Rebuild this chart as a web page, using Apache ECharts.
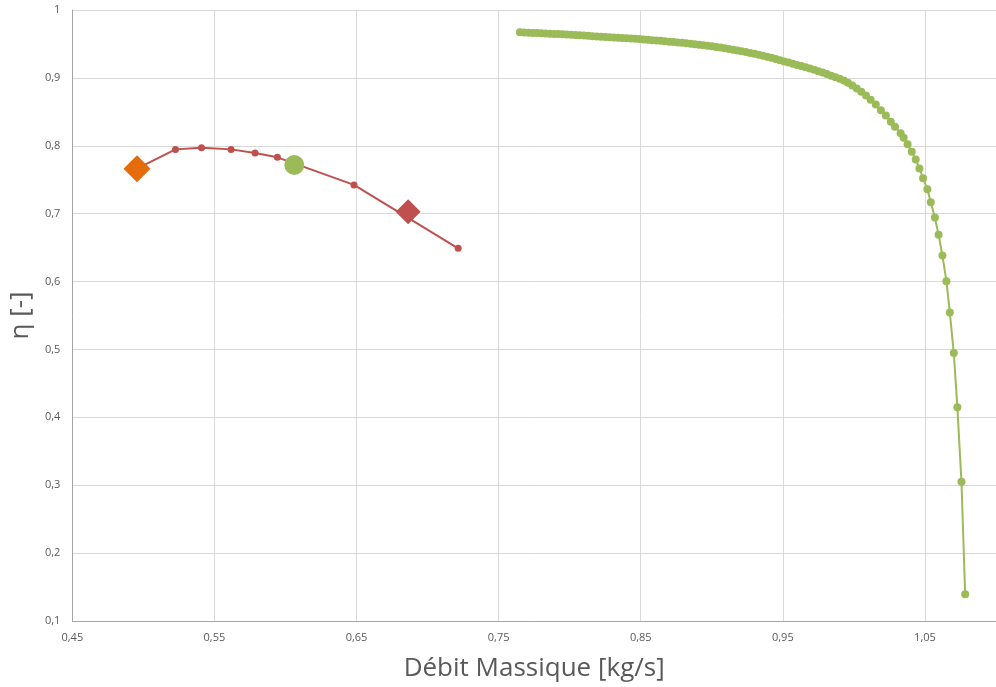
<!DOCTYPE html>
<html>
<head>
<meta charset="utf-8">
<script src="https://cdn.jsdelivr.net/npm/echarts@6/dist/echarts.min.js"></script>
<style>
html,body{margin:0;padding:0;background:#fff;}
#c{width:996px;height:687px;}
</style>
</head>
<body>
<div id="c"></div>
<script>
// X tick labels (Excel-style, starting at 0.45)
const xTicks = [0.45, 0.55, 0.65, 0.75, 0.85, 0.95, 1.05];
const yTicks = [0.1, 0.2, 0.3, 0.4, 0.5, 0.6, 0.7, 0.8, 0.9, 1];

// Green curve (dense points)
const greenX = [
 0.765,0.768,0.771,0.774,0.777,0.780,0.783,0.786,0.789,0.792,
 0.795,0.798,0.801,0.804,0.807,0.810,0.813,0.816,0.819,0.822,
 0.825,0.828,0.831,0.834,0.837,0.840,0.843,0.846,0.849,0.852,
 0.855,0.858,0.861,0.864,0.867,0.870,0.873,0.876,0.879,0.882,
 0.885,0.888,0.891,0.894,0.897,0.900,0.903,0.906,0.909,0.912,
 0.915,0.918,0.921,0.924,0.927,0.930,0.933,0.936,0.939,0.942,
 0.945,0.948,0.951,0.954,0.957,0.960,0.963,0.966,0.969,0.972,
 0.975,0.978,0.981,0.984,0.987,0.990,
 0.9929,0.9958,0.9988,1.0020,1.0052,1.0085,1.0118,1.0154,1.0190,1.0225,
 1.0260,1.0289,1.0329,1.0350,1.0378,1.0407,1.0435,1.0461,1.0487,1.0517,
 1.0541,1.0570,1.0596,1.0623,1.0651,1.0675,1.0703,1.0728,1.0757,1.0783
];
const greenY = [
 0.9672,0.9669,0.9666,0.9663,0.9660,0.9657,0.9654,0.9651,0.9648,0.9645,
 0.9642,0.9638,0.9635,0.9631,0.9627,0.9623,0.9619,0.9615,0.9611,0.9607,
 0.9603,0.9599,0.9595,0.9591,0.9587,0.9583,0.9579,0.9575,0.9571,0.9566,
 0.9561,0.9556,0.9551,0.9546,0.9540,0.9534,0.9528,0.9522,0.9516,0.9509,
 0.9502,0.9495,0.9488,0.9481,0.9473,0.9465,0.9456,0.9447,0.9437,0.9427,
 0.9416,0.9405,0.9393,0.9381,0.9368,0.9355,0.9341,0.9327,0.9312,0.9296,
 0.9279,0.9261,0.9242,0.9225,0.9208,0.9191,0.9174,0.9156,0.9138,0.9119,
 0.9099,0.9078,0.9056,0.9033,0.9009,0.8986,
 0.8961,0.8927,0.8889,0.8844,0.8795,0.8739,0.8677,0.8608,0.8523,0.8446,
 0.8355,0.8282,0.8186,0.8117,0.8021,0.7912,0.7798,0.7666,0.7522,0.7358,
 0.7167,0.6944,0.6688,0.6383,0.6006,0.5543,0.4946,0.4150,0.3050,0.1393
];

// Red curve
const redX = [0.4955, 0.5226, 0.5409, 0.5617, 0.5786, 0.5943, 0.6482, 0.7215];
const redY = [0.7663, 0.7947, 0.7971, 0.7947, 0.7893, 0.7830, 0.7424, 0.6490];

// Highlighted points
const orangeDiamond = [0.4955, 0.7663];
const greenCircle = [0.6062, 0.7717];
const redDiamond = [0.6863, 0.7028];

const fmt = v => String(+v.toFixed(2)).replace('.', ',');
const zip = (a, b) => a.map((v, i) => [v, b[i]]);
const FONT = 'Open Sans';

const chart = echarts.init(document.getElementById('c'), null, {renderer: 'canvas'});
chart.setOption({
  animation: false,
  backgroundColor: '#ffffff',
  grid: {left: 72, right: 0, top: 10, bottom: 63, containLabel: false},
  xAxis: {
    type: 'value', min: 0.45, max: 1.1,
    name: 'Débit Massique [kg/s]', nameLocation: 'middle', nameGap: 35,
    nameTextStyle: {fontFamily: FONT, fontSize: 26, color: '#595959'},
    axisLine: {show: true, lineStyle: {color: '#a6a6a6', width: 1}},
    axisTick: {show: false, customValues: xTicks},
    axisLabel: {customValues: xTicks, formatter: fmt, fontFamily: FONT, fontSize: 11, color: '#595959', margin: 11},
    splitLine: {show: true, lineStyle: {color: '#d9d9d9', width: 1}}
  },
  yAxis: {
    type: 'value', min: 0.1, max: 1, interval: 0.1,
    name: 'η [-]', nameLocation: 'middle', nameGap: 34, nameRotate: 90,
    nameTextStyle: {fontFamily: FONT, fontSize: 26, color: '#595959'},
    axisLine: {show: true, lineStyle: {color: '#a6a6a6', width: 1}},
    axisTick: {show: false},
    axisLabel: {formatter: fmt, fontFamily: FONT, fontSize: 11, color: '#595959', margin: 12},
    splitLine: {show: true, lineStyle: {color: '#d9d9d9', width: 1}}
  },
  series: [
    {
      type: 'line', data: zip(greenX, greenY),
      symbol: 'circle', symbolSize: 8, showSymbol: true, showAllSymbol: true,
      lineStyle: {color: '#9BBB59', width: 2},
      itemStyle: {color: '#9BBB59', opacity: 1}, z: 3
    },
    {
      type: 'line', data: zip(redX, redY),
      symbol: 'circle', symbolSize: 7, showSymbol: true,
      lineStyle: {color: '#C0504D', width: 2},
      itemStyle: {color: '#C0504D', opacity: 1}, z: 3
    },
    {
      type: 'scatter', data: [orangeDiamond], symbol: 'diamond', symbolSize: 27,
      itemStyle: {color: '#E46C0A', opacity: 1}, z: 5
    },
    {
      type: 'scatter', data: [greenCircle], symbol: 'circle', symbolSize: 20,
      itemStyle: {color: '#9BBB59', opacity: 1}, z: 5
    },
    {
      type: 'scatter', data: [redDiamond], symbol: 'diamond', symbolSize: 25,
      itemStyle: {color: '#C0504D', opacity: 1}, z: 5
    }
  ]
});
</script>
</body>
</html>
